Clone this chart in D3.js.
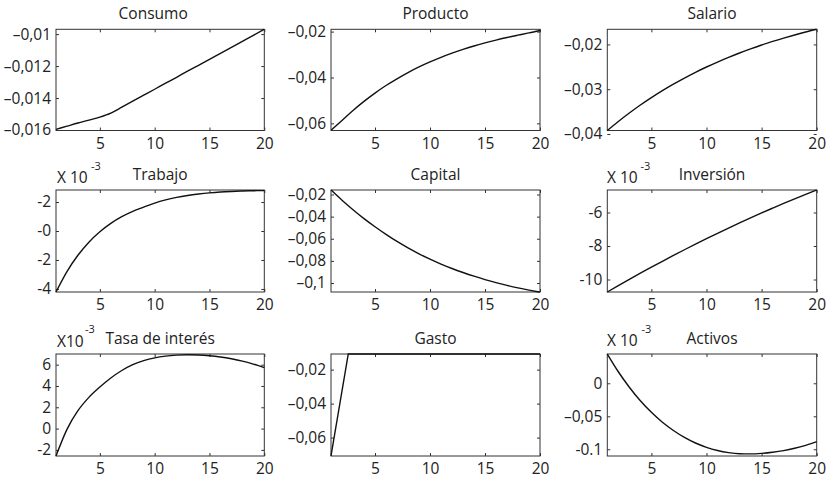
<!DOCTYPE html>
<html><head><meta charset="utf-8">
<script src="https://cdn.jsdelivr.net/npm/d3@7"></script>
<style>
html,body{margin:0;padding:0;background:#fff;}
svg{display:block;}
text{font-family:"Open Sans",sans-serif;fill:#222;}
</style></head>
<body>
<svg id="chart" width="827" height="481"></svg>
<script>
// ---------- data ----------
const periods = [1,2,3,4,5,6,7,8,9,10,11,12,13,14,15,16,17,18,19,20];
const xTicks = [5,10,15,20];
const xTickLabels = ["5","10","15","20"];

const titles = ["Consumo","Producto","Salario","Trabajo","Capital","Inversión","Tasa de interés","Gasto","Activos"];

const consumo = [-0.01596,-0.01576,-0.01556,-0.01538,-0.01519,-0.01494,-0.01457,-0.01419,-0.01382,-0.01345,
  -0.01307,-0.01270,-0.01232,-0.01195,-0.01158,-0.01120,-0.01083,-0.01045,-0.01008,-0.00970];
const producto = [-0.06302,-0.05871,-0.05436,-0.05040,-0.04680,-0.04351,-0.04058,-0.03787,-0.03542,-0.03324,
  -0.03124,-0.02942,-0.02778,-0.02627,-0.02493,-0.02369,-0.02258,-0.02156,-0.02058,-0.01950];
const salario = [-0.03922,-0.03720,-0.03531,-0.03353,-0.03187,-0.03031,-0.02887,-0.02751,-0.02622,-0.02504,
  -0.02393,-0.02289,-0.02191,-0.02100,-0.02013,-0.01933,-0.01860,-0.01789,-0.01722,-0.01662];
const trabajo = [-4.207,-2.800,-1.676,-0.772,-0.055,0.524,0.986,1.352,1.648,1.930,
  2.150,2.320,2.450,2.550,2.630,2.690,2.730,2.760,2.780,2.790];
const capital = [-0.01593,-0.02516,-0.03376,-0.04181,-0.04914,-0.05602,-0.06244,-0.06824,-0.07357,-0.07846,
  -0.08290,-0.08688,-0.09050,-0.09385,-0.09692,-0.09964,-0.10217,-0.10443,-0.10643,-0.10824];
const inversion = [-10.746,-10.366,-9.992,-9.625,-9.265,-8.911,-8.564,-8.224,-7.889,-7.563,
  -7.242,-6.928,-6.621,-6.321,-6.026,-5.740,-5.458,-5.185,-4.917,-4.657];
const tasa = [-2.57,-0.07,1.68,2.93,3.90,4.75,5.45,6.00,6.38,6.64,
  6.80,6.89,6.93,6.91,6.84,6.72,6.55,6.33,6.05,5.72];
const gastoPeriods = [1,2.57,20];
const gasto = [-0.0708,-0.0108,-0.0108];
const activos = [0.0444,0.0175,-0.0060,-0.0265,-0.0440,-0.0590,-0.0715,-0.0820,-0.0905,-0.0970,
  -0.1018,-0.1050,-0.1067,-0.1070,-0.1062,-0.1045,-0.1020,-0.0985,-0.0940,-0.0885];

// y-axis ranges and tick labels
const yDomains = [
  [-0.01603,-0.0097],[-0.06311,-0.01900],[-0.03922,-0.01662],
  [-4.21,2.83],[-0.10814,-0.01593],[-10.746,-4.657],
  [-2.57,7.0],[-0.07083,-0.0108],[-0.1102,0.0444]
];
const yTicks = [
  [-0.016,-0.014,-0.012,-0.01],[-0.06,-0.04,-0.02],[-0.04,-0.03,-0.02],
  [-4,-2,0,2],[-0.1,-0.08,-0.06,-0.04,-0.02],[-10,-8,-6],
  [-2,0,2,4,6],[-0.06,-0.04,-0.02],[-0.1,-0.05,0]
];
const yTickLabels = [
  ["–0,016","–0,014","–0,012","–0,01"],["–0,06","–0,04","–0,02"],["–0,04","–0,03","–0,02"],
  ["-4","-2","-0","-2"],["–0,1","–0,08","–0,06","–0,04","–0,02"],["-10","-8","-6"],
  ["-2","0","2","4","6"],["–0,06","–0,04","–0,02"],["-0.1","–0,05","0"]
];
const seriesY = [consumo,producto,salario,trabajo,capital,inversion,tasa,gasto,activos];
const seriesX = [periods,periods,periods,periods,periods,periods,periods,gastoPeriods,periods];
const exponentBase = {3:"X 10",5:"X 10",6:"X10",8:"X 10"};
const exponentSup = "-3";

// ---------- layout ----------
const cols = [[56,264.3],[331,540],[607.3,816.7]];
const rows = [[29.3,130.5],[190,292],[354,456]];
const titleShift = {0:-7};
const expPos = {3:[57,183,91,170],5:[607,183,640.5,170],6:[57,347,85,333],8:[607,346,641.5,333]};

const svg = d3.select("#chart");

titles.forEach((title,i)=>{
  const c = cols[i%3], r = rows[Math.floor(i/3)];
  const x = d3.scaleLinear().domain([1,20]).range([c[0],c[1]]);
  const y = d3.scaleLinear().domain(yDomains[i]).range([r[1],r[0]]);
  const g = svg.append("g");

  const fmt = (d,k)=>yTickLabels[i][k];
  const gb = g.append("g").attr("transform",`translate(0,${r[1]})`)
    .call(d3.axisBottom(x).tickValues(xTicks).tickFormat((d,k)=>xTickLabels[k]).tickSizeInner(-3).tickSizeOuter(0).tickPadding(7));
  const gl = g.append("g").attr("transform",`translate(${c[0]},0)`)
    .call(d3.axisLeft(y).tickValues(yTicks[i]).tickFormat(fmt).tickSizeInner(-3).tickSizeOuter(0).tickPadding(5));
  const gt = g.append("g").attr("transform",`translate(0,${r[0]})`)
    .call(d3.axisTop(x).tickValues(xTicks).tickFormat("").tickSizeInner(-3).tickSizeOuter(0));
  const gr = g.append("g").attr("transform",`translate(${c[1]},0)`)
    .call(d3.axisRight(y).tickValues(yTicks[i]).tickFormat("").tickSizeInner(-3).tickSizeOuter(0));
  [gb,gl,gt,gr].forEach(a=>{
    a.select(".domain").remove();
    a.selectAll("line").attr("stroke","#333");
    a.selectAll("text").attr("font-family","'Open Sans',sans-serif").attr("font-size",15.5).attr("fill","#222");
  });

  g.append("rect").attr("x",c[0]).attr("y",r[0]).attr("width",c[1]-c[0]).attr("height",r[1]-r[0])
    .attr("fill","none").attr("stroke","#333").attr("stroke-width",1);

  const pts = seriesX[i].map((p,k)=>[p,seriesY[i][k]]);
  const curve = seriesX[i].length < 5 ? d3.curveLinear : d3.curveMonotoneX;
  g.append("path").datum(pts)
    .attr("d",d3.line().x(d=>x(d[0])).y(d=>y(d[1])).curve(curve))
    .attr("fill","none").attr("stroke","#111").attr("stroke-width",1.4);

  g.append("text").attr("x",(c[0]+c[1])/2+(titleShift[i]||0)).attr("y",r[0]-10.5)
    .attr("text-anchor","middle").attr("font-size",15.5).text(title);

  if (exponentBase[i]) {
    const p = expPos[i];
    g.append("text").attr("x",p[0]).attr("y",p[1]).attr("font-size",15.5).text(exponentBase[i]);
    g.append("text").attr("x",p[2]).attr("y",p[3]).attr("font-size",11).text(exponentSup);
  }
});
</script>
</body></html>
